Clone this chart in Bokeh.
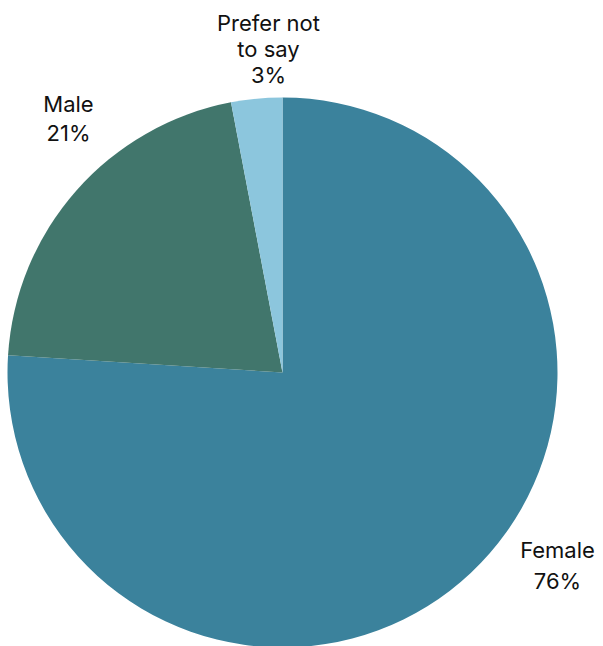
import numpy as np
from bokeh.plotting import figure
from bokeh.models import Range1d, ColumnDataSource
from bokeh.core.properties import value
from bokeh.embed import file_html
from bokeh.resources import INLINE

categories = ["Female", "Male", "Prefer not\nto say"]
percents = [76, 21, 3]
colors = ["#3B829C", "#41766C", "#8CC6DD"]

W, H = 603, 646
cx, cy, R = 282, H - 372, 275
# label layout: center x, first-line y (top-down pixels), line spacing
label_layout = [(557, 549, 31), (68, 103, 29), (268, 22, 26)]

vals = np.array(percents, dtype=float)
frac = vals / vals.sum()
cum_end = np.cumsum(frac)
cum_start = cum_end - frac
start = np.pi / 2 - cum_end * 2 * np.pi
end = np.pi / 2 - cum_start * 2 * np.pi

src = ColumnDataSource(dict(start=start, end=end, color=colors))

p = figure(width=W, height=H, x_range=Range1d(0, W), y_range=Range1d(0, H),
           output_backend="svg", toolbar_location=None, min_border=0)
p.axis.visible = False
p.grid.visible = False
p.outline_line_color = None
p.background_fill_color = "white"

p.wedge(x=cx, y=cy, radius=R, start_angle="start", end_angle="end",
        fill_color="color", line_color=None, source=src)

xs, ys, ts = [], [], []
for c, v, (lx, ly, ls) in zip(categories, percents, label_layout):
    lines = c.split("\n") + [f"{v}%"]
    for i, ln in enumerate(lines):
        xs.append(lx)
        ys.append(H - (ly + i * ls))
        ts.append(ln)
lsrc = ColumnDataSource(dict(x=xs, y=ys, t=ts))
p.text(x="x", y="y", text="t", source=lsrc, text_align="center",
       text_baseline="middle", text_font=value("Inter"),
       text_font_size="22px", text_color="#111111")

open("out.html", "w").write(file_html(p, INLINE))
